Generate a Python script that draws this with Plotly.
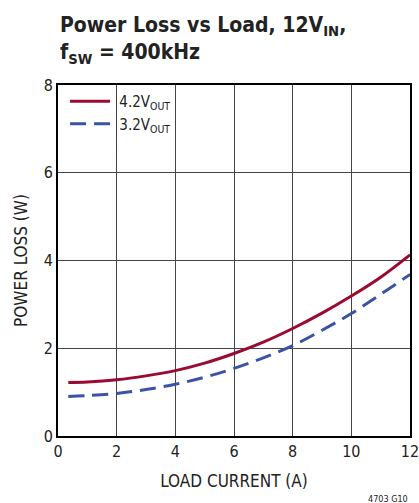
import plotly.graph_objects as go

load_current = [0.35, 1, 2, 3, 4, 5, 6, 7, 8, 9, 10, 11, 12]
loss_42v = [1.22, 1.23, 1.28, 1.37, 1.49, 1.66, 1.88, 2.14, 2.45, 2.80, 3.19, 3.62, 4.13]
loss_32v = [0.90, 0.92, 0.97, 1.06, 1.18, 1.34, 1.54, 1.78, 2.06, 2.41, 2.79, 3.23, 3.68]
x_ticks = [0, 2, 4, 6, 8, 10, 12]
y_ticks = [0, 2, 4, 6, 8]

FONT = "DejaVu Sans Condensed, Liberation Sans Narrow, Arial Narrow, sans-serif"

fig = go.Figure()
fig.add_trace(go.Scatter(x=load_current, y=loss_42v, mode="lines", name="\u00a04.2V<sub>OUT</sub>",
                         line=dict(color="#9b0a30", width=3, shape="spline")))
fig.add_trace(go.Scatter(x=load_current, y=loss_32v, mode="lines", name="\u00a03.2V<sub>OUT</sub>",
                         line=dict(color="#3a53a4", width=3, dash="16px,8px", shape="spline")))

axis_common = dict(showline=True, linecolor="black", linewidth=2, mirror=True,
                   showgrid=True, gridcolor="#444", gridwidth=1, zeroline=False,
                   automargin=False, ticklabeloverflow="allow",
                   ticks="", tickfont=dict(family=FONT, size=16, color="#222"))

fig.update_layout(
    width=419, height=503,
    margin=dict(l=58, r=9, t=85, b=67),
    paper_bgcolor="white", plot_bgcolor="white",
    showlegend=True,
    legend=dict(x=0.02, y=1.0, xanchor="left", yanchor="top", bgcolor="rgba(0,0,0,0)",
                font=dict(family=FONT, size=15, color="#222"), tracegroupgap=0,
                itemwidth=40),
    xaxis=dict(range=[0, 12], tickvals=x_ticks,
               title=dict(text="LOAD CURRENT (A)", font=dict(family=FONT, size=17, color="#222"), standoff=15),
               **axis_common),
    yaxis=dict(range=[0, 8], tickvals=y_ticks,
               title=dict(text="POWER LOSS (W)", font=dict(family=FONT, size=17, color="#222"), standoff=12),
               **axis_common),
    annotations=[
        dict(text="<b>Power Loss vs Load, 12V<sub>IN</sub>,<br>f<sub>SW</sub> = 400kHz</b>",
             xref="paper", yref="paper", x=0.0, y=1.0, xanchor="left", yanchor="bottom",
             yshift=16, align="left", showarrow=False,
             font=dict(family=FONT, size=21, color="#222")),
        dict(text="4703 G10", xref="paper", yref="paper", x=1.0, y=0, xanchor="right", yanchor="top",
             yshift=-56, showarrow=False, font=dict(family=FONT, size=9, color="#222")),
    ],
)

fig.write_html("out.html", config={"displayModeBar": False},
               post_script="document.body.style.margin='0';")
